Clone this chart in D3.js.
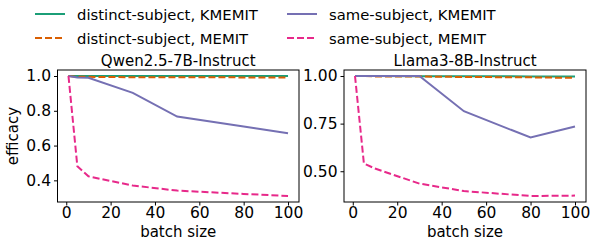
<!DOCTYPE html>
<html>
<head>
<meta charset="utf-8">
<script src="https://cdn.jsdelivr.net/npm/d3@7"></script>
<style>
  body { margin: 0; background: #fff; }
  text { font-family: "DejaVu Sans", sans-serif; fill: #000; }
</style>
</head>
<body>
<div id="wrapper"></div>
<script>
// batch sizes shared by both panels
const batchSizes = [1, 5, 10, 30, 50, 80, 100]

// Qwen2.5-7B-Instruct
const qwenDistinctKMEMIT = [1.0, 1.0, 1.0, 1.0, 1.0, 1.0, 1.0]
const qwenDistinctMEMIT = [1.0, 0.995, 0.995, 0.993, 0.993, 0.992, 0.992]
const qwenSameKMEMIT = [1.0, 0.992, 0.99, 0.903, 0.767, 0.71, 0.671]
const qwenSameMEMIT = [1.0, 0.481, 0.423, 0.37, 0.341, 0.322, 0.31]

// Llama3-8B-Instruct
const llamaDistinctKMEMIT = [1.0, 1.0, 1.0, 0.999, 0.999, 0.998, 0.998]
const llamaDistinctMEMIT = [1.0, 1.0, 0.998, 0.997, 0.995, 0.993, 0.99]
const llamaSameKMEMIT = [1.0, 1.0, 1.0, 1.0, 0.815, 0.677, 0.735]
const llamaSameMEMIT = [1.0, 0.541, 0.514, 0.435, 0.396, 0.37, 0.372]

const xTicks = [0, 20, 40, 60, 80, 100]
const qwenYTicks = [0.4, 0.6, 0.8, 1.0]
const llamaYTicks = [0.5, 0.75, 1.0]

const seriesNames = [
  "distinct-subject, KMEMIT",
  "distinct-subject, MEMIT",
  "same-subject, KMEMIT",
  "same-subject, MEMIT"
]

const styles = {
  "distinct-subject, KMEMIT": { color: "#1b9e77", dash: null },
  "distinct-subject, MEMIT": { color: "#d95f02", dash: "7,3" },
  "same-subject, KMEMIT": { color: "#7570b3", dash: null },
  "same-subject, MEMIT": { color: "#e7298a", dash: "7,3" }
}

const width = 592
const height = 241
const fontSize = 15
const tickFontSize = 15.5
const legendFontSize = 14.8

const svg = d3.select("#wrapper")
  .append("svg")
  .attr("width", width)
  .attr("height", height)

const panels = [
  {
    title: "Qwen2.5-7B-Instruct",
    left: 57.5, right: 299,
    series: [qwenDistinctKMEMIT, qwenDistinctMEMIT, qwenSameKMEMIT, qwenSameMEMIT],
    yTicks: qwenYTicks, fmt: d3.format(".1f"), yLabel: "efficacy"
  },
  {
    title: "Llama3-8B-Instruct",
    left: 344, right: 586,
    series: [llamaDistinctKMEMIT, llamaDistinctMEMIT, llamaSameKMEMIT, llamaSameMEMIT],
    yTicks: llamaYTicks, fmt: d3.format(".2f"), yLabel: null
  }
]

const plotTop = 70
const plotBottom = 202

panels.forEach(p => {
  // matplotlib-style 5% margins
  const xExt = d3.extent(batchSizes)
  const xPad = (xExt[1] - xExt[0]) * 0.05
  const xScale = d3.scaleLinear()
    .domain([xExt[0] - xPad, xExt[1] + xPad])
    .range([p.left, p.right])

  const allY = p.series.flat()
  const yExt = d3.extent(allY)
  const yPad = (yExt[1] - yExt[0]) * 0.05
  const yScale = d3.scaleLinear()
    .domain([yExt[0] - yPad, yExt[1] + yPad])
    .range([plotBottom, plotTop])

  const g = svg.append("g")

  const line = d3.line()
    .x((d, i) => xScale(batchSizes[i]))
    .y(d => yScale(d))

  p.series.forEach((values, k) => {
    const st = styles[seriesNames[k]]
    g.append("path")
      .datum(values)
      .attr("d", line)
      .attr("fill", "none")
      .attr("stroke", st.color)
      .attr("stroke-width", 2)
      .attr("stroke-dasharray", st.dash)
  })

  // frame
  g.append("rect")
    .attr("x", p.left)
    .attr("y", plotTop)
    .attr("width", p.right - p.left)
    .attr("height", plotBottom - plotTop)
    .attr("fill", "none")
    .attr("stroke", "#000")
    .attr("stroke-width", 1)

  const xAxis = g.append("g")
    .attr("transform", `translate(0,${plotBottom})`)
    .call(d3.axisBottom(xScale).tickValues(xTicks).tickSize(3.5).tickPadding(1))
  const yAxis = g.append("g")
    .attr("transform", `translate(${p.left},0)`)
    .call(d3.axisLeft(yScale).tickValues(p.yTicks).tickFormat(p.fmt).tickSize(3.5).tickPadding(3))

  ;[xAxis, yAxis].forEach(ax => {
    ax.select(".domain").remove()
    ax.selectAll("text")
      .style("font-family", "DejaVu Sans")
      .style("font-size", tickFontSize + "px")
      .attr("fill", "#000")
  })

  g.append("text")
    .attr("x", (p.left + p.right) / 2)
    .attr("y", 66)
    .attr("text-anchor", "middle")
    .style("font-size", fontSize + "px")
    .text(p.title)

  g.append("text")
    .attr("x", (p.left + p.right) / 2)
    .attr("y", 236.5)
    .attr("text-anchor", "middle")
    .style("font-size", fontSize + "px")
    .text("batch size")

  if (p.yLabel) {
    g.append("text")
      .attr("transform", `translate(18,${(plotTop + plotBottom) / 2}) rotate(-90)`)
      .attr("text-anchor", "middle")
      .style("font-size", fontSize + "px")
      .text(p.yLabel)
  }
})

// legend, two columns filled column-wise
const legendCols = [35, 287]
const legendRows = [14, 38]
seriesNames.forEach((name, i) => {
  const col = i < 2 ? 0 : 1
  const row = i % 2
  const x = legendCols[col]
  const y = legendRows[row]
  const st = styles[name]
  svg.append("line")
    .attr("x1", x).attr("x2", x + 30)
    .attr("y1", y).attr("y2", y)
    .attr("stroke", st.color)
    .attr("stroke-width", 2)
    .attr("stroke-dasharray", st.dash)
  svg.append("text")
    .attr("x", x + 42)
    .attr("y", y + 5.5)
    .style("font-size", legendFontSize + "px")
    .text(name)
})
</script>
</body>
</html>
